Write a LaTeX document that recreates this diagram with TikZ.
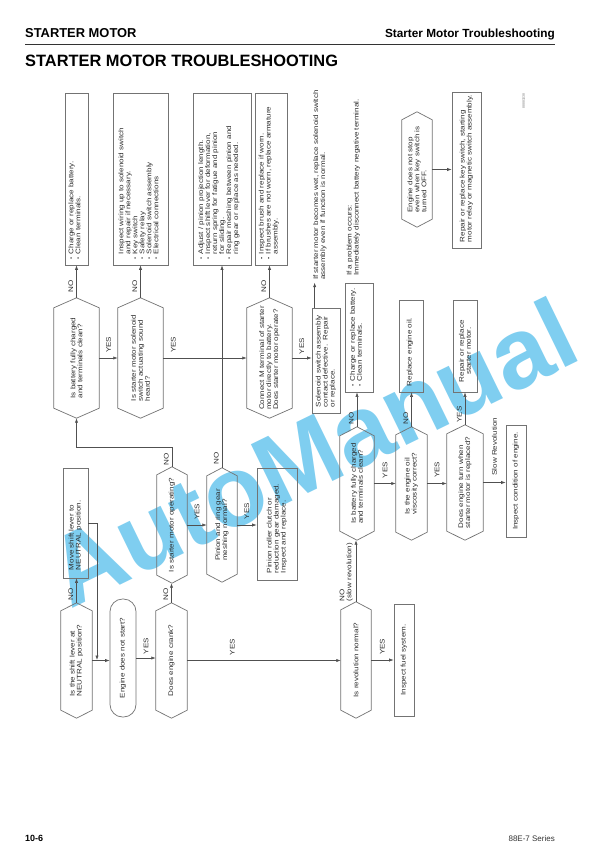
\documentclass[tikz,border=0pt]{standalone}
\usepackage{fontspec}
\setmainfont{Liberation Sans}
\newfontfamily\flowfont[FakeStretch=1.2]{Liberation Sans}
\usetikzlibrary{calc,arrows.meta,fit}
\definecolor{linec}{RGB}{80,80,80}
\definecolor{boxc}{RGB}{115,115,115}
\definecolor{txtc}{RGB}{45,45,45}
\definecolor{wmark}{RGB}{105,198,238}
\newcommand{\bu}{\makebox[5pt][l]{\fontsize{5}{5}\selectfont\raisebox{0.4pt}{•}}}
\newcommand{\ind}{\hspace*{5pt}}
\newcommand{\hexdraw}[2]{\draw[hexline] (#1.north) -- ($(#1.north east)+(0,#2)$) -- ($(#1.south east)+(0,-#2)$) -- (#1.south) -- ($(#1.south west)+(0,-#2)$) -- ($(#1.north west)+(0,#2)$) -- cycle;}
\tikzset{
  flow/.style={font=\flowfont\fontsize{6.7}{7}\selectfont, text=txtc, inner sep=0pt},
  boxn/.style={draw=boxc, line width=0.7pt, inner sep=0pt},
  hexb/.style={inner sep=0pt},
  hexline/.style={draw=boxc, line width=0.7pt},
  arr/.style={draw=linec, line width=0.6pt, -{Latex[length=4.5pt,width=3.2pt]}},
  lbl/.style={flow, rotate=90, anchor=south west},
  lblh/.style={flow, rotate=90, anchor=west},
}
\begin{document}
\begin{tikzpicture}[x=1pt,y=-1pt]
\useasboundingbox (0,0) rectangle (612,866);
\fill[white] (0,0) rectangle (612,866);
% watermark
\node[rotate=26, font=\bfseries\fontsize{100}{100}\selectfont, text=wmark, text opacity=0.85] (wm) at (312,452) {AutoManual};
% header
\node[anchor=base west, inner sep=0, font=\bfseries\fontsize{12.9}{14}\selectfont] (hd1) at (25,38) {STARTER MOTOR};
\node[anchor=base east, inner sep=0, font=\bfseries\fontsize{11.8}{14}\selectfont] (hd2) at (555,38) {Starter Motor Troubleshooting};
\coordinate (rl1) at (25,44.5); \coordinate (rl2) at (555,44.5);
\draw[line width=1pt, black!80] (rl1) -- (rl2);
\node[anchor=base west, inner sep=0, font=\bfseries\fontsize{16.4}{18}\selectfont] (ttl) at (25,67) {STARTER MOTOR TROUBLESHOOTING};
\node[anchor=base west, inner sep=0, font=\bfseries\fontsize{9}{10}\selectfont] (ft1) at (25,841) {10-6};
\node[anchor=base east, inner sep=0, font=\fontsize{8}{10}\selectfont, text=black!80] (ft2) at (555,841) {88E-7 Series};
\node[flow, rotate=90, anchor=south east, font=\fontsize{3.5}{4}\selectfont, text=black!50] (idn) at (525,93) {88881038};

% boxes
\node[boxn, fit={(65,93) (88,265)}] (B1) {};
\node[boxn, fit={(113,93) (168,265)}] (B2) {};
\node[boxn, fit={(193,93) (251,265)}] (B3) {};
\node[boxn, fit={(255,93) (287,265)}] (B4) {};
\node[boxn, fit={(312,308) (340,413)}] (B5) {};
\node[boxn, fit={(345,283) (373,392)}] (B6) {};
\node[boxn, fit={(399,300) (423,392)}] (B7) {};
\node[boxn, fit={(453,300) (477,392)}] (B8) {};
\node[boxn, fit={(506,425) (526,537)}] (B9) {};
\node[boxn, fit={(394,604) (414,716)}] (B10) {};
\node[boxn, fit={(257,468) (297,580)}] (B11) {};
\node[boxn, fit={(63,468) (88,578)}] (B12) {};
\node[boxn, fit={(452,92) (481,248)}] (B13) {};
\node[boxn, rounded corners=12.5pt, fit={(110,599) (136,717)}] (S1) {};

% box texts
\node[flow, rotate=90, anchor=west, align=left] (B1t) at ($(B1.south)+(-2,-6)$) {\bu Charge or replace battery.\\\bu Clean terminals.};
\node[flow, rotate=90, anchor=west, align=left] (B2t) at ($(B2.south)+(-2,-6)$) {\ind Inspect wiring up to solenoid switch\\\ind and repair if necessary.\\\bu Key switch\\\bu Safety relay\\\bu Solenoid switch assembly\\\bu Electrical connections};
\node[flow, rotate=90, anchor=west, align=left] (B3t) at ($(B3.south)+(-3,-6)$) {\bu Adjust / pinion projection length.\\\bu Inspect shift lever for deformation,\\\ind return spring for fatigue and pinion\\\ind for sliding.\\\bu Repair meshing between pinion and\\\ind ring gear or replace as needed.};
\node[flow, rotate=90, anchor=west, align=left] (B4t) at ($(B4.south)+(-2,-6)$) {\bu Inspect brush and replace if worn.\\\bu If brushes are not worn, replace armature\\\ind assembly.};
\node[flow, rotate=90, anchor=west, align=left] (B5t) at ($(B5.south)+(0,-6)$) {Solenoid switch assembly\\contact defective.\ \ Repair\\or replace.};
\node[flow, rotate=90, anchor=west, align=left] (B6t) at ($(B6.south)+(-3,-6)$) {\bu Charge or replace battery.\\\bu Clean terminals.};
\node[flow, rotate=90, anchor=west, align=left] (B7t) at ($(B7.south)+(-1,-6)$) {Replace engine oil.};
\node[flow, rotate=90, anchor=west, align=center] (B8t) at ($(B8.south)+(0,-10)$) {Repair or replace\\starter motor.};
\node[flow, rotate=90] (B9t) at (B9.center) {Inspect condition of engine.};
\node[flow, rotate=90] (B10t) at (B10.center) {Inspect fuel system.};
\node[flow, rotate=90, anchor=west, align=left] (B11t) at ($(B11.south)+(0,-7)$) {Pinion roller clutch or\\reduction gear damaged.\\Inspect and replace.};
\node[flow, rotate=90, anchor=west, align=left] (B12t) at ($(B12.south)+(0,-8)$) {Move shift lever to\\NEUTRAL position.};
\node[flow, rotate=90, anchor=west, align=left] (B13t) at ($(B13.south)+(0,-6)$) {Repair or replace key switch, starting\\motor relay or magnetic switch assembly.};
\node[flow, rotate=90] (S1t) at (S1.center) {Engine does not start?};

% hexagons
\node[hexb, fit={(61,603) (92,718)}] (H1) {};
\node[hexb, fit={(156,603) (187,718)}] (H2) {};
\node[hexb, fit={(157,467) (187,583)}] (H3) {};
\node[hexb, fit={(207,468) (237,582)}] (H4) {};
\node[hexb, fit={(54,298) (99,418)}] (H5) {};
\node[hexb, fit={(118,298) (163,418)}] (H6) {};
\node[hexb, fit={(247,298) (292,418)}] (H7) {};
\node[hexb, fit={(341,602) (371,718)}] (H8) {};
\node[hexb, fit={(340,427) (374,540)}] (H9) {};
\node[hexb, fit={(396,427) (427,540)}] (H10) {};
\node[hexb, fit={(447,425) (483,540)}] (H11) {};
\node[hexb, fit={(402,112) (432,227)}] (H12) {};
\hexdraw{H1}{8}\hexdraw{H2}{8}\hexdraw{H3}{8}\hexdraw{H4}{8}
\hexdraw{H5}{10}\hexdraw{H6}{10}\hexdraw{H7}{10}\hexdraw{H8}{8}
\hexdraw{H9}{9}\hexdraw{H10}{8}\hexdraw{H11}{9}\hexdraw{H12}{8}

\node[flow, rotate=90, align=left] (H1t) at (H1.center) {Is the shift lever at\\NEUTRAL position?};
\node[flow, rotate=90, align=left] (H2t) at (H2.center) {Does engine crank?};
\node[flow, rotate=90, align=left] (H3t) at (H3.center) {Is starter motor operating?};
\node[flow, rotate=90, align=left] (H4t) at (H4.center) {Pinion and ring gear\\meshing normal?};
\node[flow, rotate=90, align=left] (H5t) at (H5.center) {Is battery fully charged\\and terminals clean?};
\node[flow, rotate=90, align=left] (H6t) at (H6.center) {Is starter motor solenoid\\switch actuating sound\\heard?};
\node[flow, rotate=90, align=left] (H7t) at (H7.center) {Connect M terminal of starter\\motor directly to battery.\\Does starter motor operate?};
\node[flow, rotate=90, align=left] (H8t) at (H8.center) {Is revolution normal?};
\node[flow, rotate=90, align=left] (H9t) at (H9.center) {Is battery fully charged\\and terminals clean?};
\node[flow, rotate=90, align=left] (H10t) at (H10.center) {Is the engine oil\\viscosity correct?};
\node[flow, rotate=90, align=left] (H11t) at (H11.center) {Does engine turn when\\starter motor is replaced?};
\node[flow, rotate=90, align=left] (H12t) at (H12.center) {Engine does not stop\\even when key switch is\\turned OFF.};

% notes
\draw[arr] ($(B5.north west)+(3,0)$) coordinate (N1a) -- ($(B5.north west)+(3,-25)$) coordinate (N1b);
\node[flow, rotate=90, anchor=north west, align=left] (N1) at (313,280) {If starter motor becomes wet, replace solenoid switch\\assembly even if function is normal.};
\node[flow, rotate=90, anchor=north west, align=left] (N2) at (346.5,276) {If a problem occurs:\\Immediately disconnect battery negative terminal.};

% connectors
\draw[arr] (H1.north) -- (H1.north |- B12.south);
\node[lbl] (L1) at ($(H1.north)+(-3,-2)$) {NO};
\coordinate (J1) at (97,660);
\draw[arr] (B12.east) -| (J1);
\draw[arr] (H1.east) -- (H1.east -| S1.west);
\draw[arr] (S1.east) -- (S1.east -| H2.west);
\node[lblh] (L2) at ($(S1.east)!0.5!(H2.west)+(0,-5)$) {YES};
\draw[arr] (H2.north) -- (H2.north |- H3.south);
\node[lbl] (L3) at ($(H2.north)+(-3,-2)$) {NO};
\draw[arr] (H2.east) -- (H2.east -| H8.west);
\node[lblh] (L4) at ($(H2.east)+(45,-5)$) {YES};
\draw[arr] (H3.north) -- ($(H3.north)+(0,-20)$) coordinate (K3) -| (H5.south);
\node[lbl] (L5) at ($(H3.north)+(-3,-1)$) {NO};
\draw[arr] (H3.east) -- (H3.east -| H4.west);
\node[lblh] (L6) at ($(H3.east)!0.5!(H4.west)+(0,-5)$) {YES};
\draw[arr] (H4.north) -- (H4.north |- B3.south);
\node[lbl] (L7) at ($(H4.north)+(-3,-3)$) {NO};
\draw[arr] (H4.east) -- (H4.east -| B11.west);
\node[lblh] (L8) at ($(H4.east)!0.5!(B11.west)+(0,-5)$) {YES};
\draw[arr] (H5.north) -- (H5.north |- B1.south);
\node[lbl] (L9) at ($(H5.north)+(-3,-5)$) {NO};
\draw[arr] (H5.east) -- (H5.east -| H6.west);
\node[lblh] (L10) at ($(H5.east)!0.5!(H6.west)+(0,-5)$) {YES};
\draw[arr] (H6.north) -- (H6.north |- B2.south);
\node[lbl] (L11) at ($(H6.north)+(-3,-5)$) {NO};
\draw[arr] (H6.east) -- (H6.east -| H7.west);
\node[lblh] (L12) at ($(H6.east)+(10,-5)$) {YES};
\draw[arr] (H7.north) -- (H7.north |- B4.south);
\node[lbl] (L13) at ($(H7.north)+(-3,-5)$) {NO};
\draw[arr] (H7.east) -- (H7.east -| B5.west);
\node[lblh] (L14) at ($(H7.east)!0.5!(B5.west)+(0,-5)$) {YES};
\draw[arr] (H8.north) -- (H8.north |- H9.south);
\node[lbl, align=left] (L15) at ($(H8.north)+(-3,0)$) {NO\\(slow revolution)};
\draw[arr] (H8.east) -- (H8.east -| B10.west);
\node[lblh] (L16) at ($(H8.east)!0.5!(B10.west)+(0,-5)$) {YES};
\draw[arr] (H9.north) -- (H9.north |- B6.south);
\node[lbl] (L17) at ($(H9.north)+(-3,-2)$) {NO};
\draw[arr] (H9.east) -- (H9.east -| H10.west);
\node[lblh] (L18) at ($(H9.east)!0.5!(H10.west)+(0,-5)$) {YES};
\draw[arr] (H10.north) -- (H10.north |- B7.south);
\node[lbl] (L19) at ($(H10.north)+(-3,-2)$) {NO};
\draw[arr] (H10.east) -- (H10.east -| H11.west);
\node[lblh] (L20) at ($(H10.east)!0.5!(H11.west)+(0,-5)$) {YES};
\draw[arr] (H11.north) -- (H11.north |- B8.south);
\node[lbl] (L21) at ($(H11.north)+(-3,-2)$) {YES};
\draw[arr] (H11.east) -- (H11.east -| B9.west);
\node[lblh] (L22) at ($(H11.east)!0.5!(B9.west)+(0,-6)$) {Slow Revolution};
\draw[arr] (H12.east) -- (H12.east -| B13.west);
\end{tikzpicture}
\end{document}
